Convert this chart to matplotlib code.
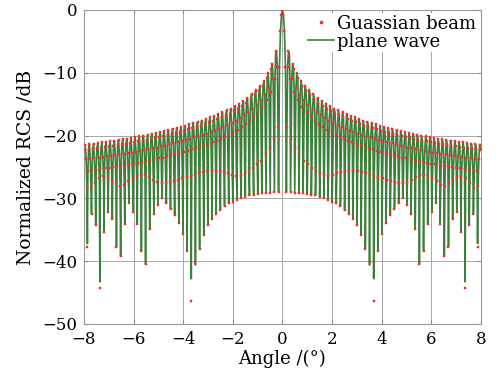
import numpy as np
import matplotlib
matplotlib.use("Agg")
import matplotlib.pyplot as plt
from matplotlib.lines import Line2D

# ---- data (right half, mirrored to the left half) ----
first_null = 0.158      # deg, first null of main lobe
null_step = 0.1675      # deg, spacing of nulls
main_deg = [0.0, 0.04, 0.08, 0.12]
main_db = [0.0, -0.8, -3.3, -9.0]
null_db = [-29.0, -29.0, -29.1, -29.1, -29.2, -29.3, -29.4, -29.5, -29.7, -29.9,
           -30.2, -30.5, -30.8, -31.2, -31.8, -32.5, -33.3, -34.3, -35.8, -38.0,
           -40.6, -42.8, -38.4, -35.7, -33.9, -32.7, -31.7, -30.8, -30.0, -31.1,
           -32.5, -34.9, -40.5, -38.4, -34.1, -32.1, -30.7, -34.0, -39.2, -37.7,
           -33.3, -32.1, -35.3, -43.3, -34.3, -32.5, -37.2]
null_db_gauss = [-29.0, -29.0, -29.1, -29.1, -29.2, -29.3, -29.4, -29.5, -29.7, -29.9,
                 -30.2, -30.5, -30.8, -31.2, -31.8, -32.5, -33.3, -34.3, -35.8, -38.0,
                 -40.2, -46.4, -38.4, -35.7, -33.9, -32.7, -31.7, -30.8, -30.0, -31.1,
                 -32.5, -34.9, -40.5, -38.4, -34.1, -32.1, -30.7, -34.0, -39.2, -37.7,
                 -33.3, -32.1, -35.3, -44.3, -34.3, -32.5, -37.7]
peak_db = [-6.5, -8.6, -10.1, -11.3, -12.1, -12.8, -13.4, -14.0, -14.5, -14.9,
           -15.3, -15.7, -16.0, -16.3, -16.6, -16.9, -17.1, -17.4, -17.6, -17.8,
           -18.0, -18.2, -18.4, -18.6, -18.8, -18.9, -19.1, -19.3, -19.4, -19.6,
           -19.7, -19.9, -20.0, -20.1, -20.3, -20.4, -20.5, -20.6, -20.7, -20.8,
           -20.9, -21.0, -21.1, -21.2, -21.3, -21.4, -21.5]
shoulder_a_db = [-9.0, -11.0, -12.4, -13.6, -14.4, -15.1, -15.7, -16.3, -16.8, -17.2,
                 -17.6, -18.0, -18.3, -18.6, -18.9, -19.2, -19.4, -19.7, -19.9, -20.1,
                 -20.3, -20.5, -20.7, -20.9, -21.1, -21.2, -21.4, -21.6, -21.7, -21.9,
                 -22.0, -22.2, -22.3, -22.4, -22.6, -22.7, -22.8, -22.9, -23.0, -23.1,
                 -23.2, -23.3, -23.4, -23.5, -23.6, -23.7, -23.8]
shoulder_b_db = [-7.3, -9.4, -10.9, -12.1, -12.9, -13.6, -14.2, -14.8, -15.3, -15.7,
                 -16.1, -16.5, -16.8, -17.1, -17.4, -17.7, -17.9, -18.2, -18.4, -18.6,
                 -18.8, -19.0, -19.2, -19.4, -19.6, -19.7, -19.9, -20.1, -20.2, -20.4,
                 -20.5, -20.7, -20.8, -20.9, -21.1, -21.2, -21.3, -21.4, -21.5, -21.6,
                 -21.7, -21.8, -21.9, -22.0, -22.1, -22.2, -22.3]
rise_db = [-18.6, -20.5, -22.0, -23.0, -24.0, -24.6, -25.2, -25.6, -26.0, -26.3,
           -26.5, -26.3, -26.0, -25.8, -25.6, -25.6, -25.5, -25.6, -25.8, -26.0,
           -26.2, -26.5, -26.6, -26.8, -27.0, -27.2, -27.4, -27.5, -27.6, -27.4,
           -27.0, -26.6, -26.3, -26.2, -26.4, -26.8, -27.3, -27.8, -28.0, -27.5,
           -27.0, -26.6, -26.5, -26.8, -27.5, -28.3, -28.0]
fall_db = [-11.0, -13.0, -14.3, -15.5, -16.3, -17.0, -17.6, -18.1, -18.6, -19.1,
           -19.5, -19.9, -20.2, -20.5, -20.8, -21.0, -21.3, -21.5, -21.8, -22.0,
           -22.2, -22.4, -22.6, -22.8, -23.0, -23.1, -23.3, -23.5, -23.6, -23.8,
           -23.9, -24.1, -24.2, -24.3, -24.5, -24.6, -24.7, -24.8, -24.9, -25.0,
           -25.1, -25.2, -25.3, -25.4, -25.5, -25.6, -25.7]

x_ticks = [-8, -6, -4, -2, 0, 2, 4, 6, 8]
y_ticks = [-50, -40, -30, -20, -10, 0]

# sample offsets inside one lobe, as fractions of the null spacing
lobe_frac = [0.0, 0.13, 0.30, 0.50, 0.72, 0.87]


def build(nulls):
    xs = list(main_deg)
    ys = list(main_db)
    for k in range(len(nulls)):
        xn = first_null + k * null_step
        vals = [nulls[k], rise_db[k], shoulder_a_db[k], peak_db[k],
                shoulder_b_db[k], fall_db[k]]
        for f, v in zip(lobe_frac, vals):
            xs.append(xn + f * null_step)
            ys.append(v)
    xs = np.array(xs)
    ys = np.array(ys)
    keep = xs <= 8.0
    xs, ys = xs[keep], ys[keep]
    x_full = np.concatenate([-xs[:0:-1], xs])
    y_full = np.concatenate([ys[:0:-1], ys])
    return x_full, y_full


x_pw, y_pw = build(null_db)
x_gb, y_gb = build(null_db_gauss)

plt.rcParams['font.family'] = ['DejaVu Serif']
fig = plt.figure(figsize=(5.02, 3.77), dpi=100)
ax = fig.add_axes([0.1673, 0.1406, 0.7908, 0.8329])

green = '#3a7f3a'
red = '#f0302a'
ax.plot(x_pw, y_pw, color=green, lw=1.2, zorder=2)
ax.plot(x_gb, y_gb, ls='none', marker='s', ms=1.7, mfc=red, mec=red, mew=0.3, zorder=3)

ax.set_xlim(-8, 8)
ax.set_ylim(-50, 0)
ax.set_xticks(x_ticks)
ax.set_yticks(y_ticks)
ax.set_xticklabels([f"{t}".replace('-', '\u2212') for t in x_ticks])
ax.set_yticklabels([f"{t}".replace('-', '\u2212') for t in y_ticks])
ax.grid(True, color='#a8a8a8', lw=0.7)
ax.set_axisbelow(True)
ax.tick_params(direction='in', length=3, color='#888888', labelsize=12,
               top=True, right=True)
ax.tick_params(axis='x', pad=5)
ax.tick_params(axis='y', pad=5)
for s in ax.spines.values():
    s.set_color('#999999')
    s.set_linewidth(0.8)
ax.set_xlabel('Angle /(°)', fontsize=13, labelpad=1)
ax.set_ylabel('Normalized RCS /dB', fontsize=13.5, labelpad=5)

handles = [Line2D([], [], ls='none', marker='s', ms=1.8, mfc=red, mec=red),
           Line2D([], [], color=green, lw=1.2)]
leg = ax.legend(handles, ['Guassian beam', 'plane wave'], loc='upper right',
                fontsize=13, frameon=True, fancybox=False, framealpha=1,
                edgecolor='white', borderpad=0.1, handlelength=1.4,
                handletextpad=0.2, labelspacing=0.0, borderaxespad=0.15)
leg.get_frame().set_linewidth(0)

fig.savefig('out.png', dpi=100)
